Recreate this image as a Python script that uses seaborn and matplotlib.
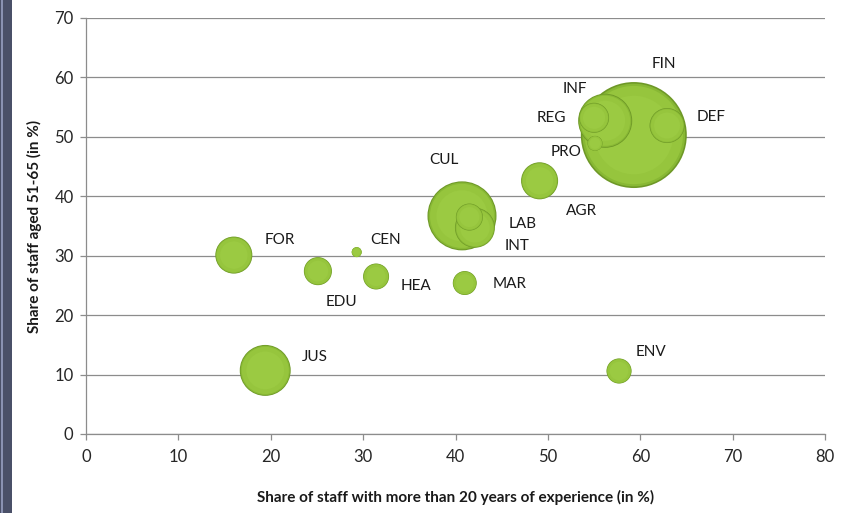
import matplotlib
matplotlib.use("Agg")
import matplotlib.pyplot as plt
import seaborn as sns
import pandas as pd
from matplotlib.patches import Rectangle

# ---- data ----
codes = ["FIN", "INF", "REG", "PRO", "DEF", "AGR", "CUL", "LAB", "INT",
         "FOR", "CEN", "EDU", "HEA", "MAR", "JUS", "ENV"]
experience = [59.3, 56.2, 55.0, 55.1, 62.9, 49.1, 40.7, 41.5, 42.1,
              16.0, 29.3, 25.1, 31.4, 41.0, 19.4, 57.7]
aged_51_65 = [50.3, 52.7, 53.2, 48.9, 51.9, 42.6, 36.7, 36.5, 34.7,
              30.1, 30.6, 27.4, 26.5, 25.4, 10.7, 10.6]
staff_size = [100, 26, 8, 2, 10.9, 12.2, 42.4, 6.5, 14.2,
              12.2, 0.9, 7.0, 6.0, 5.1, 23.1, 5.6]
x_ticks = [0, 10, 20, 30, 40, 50, 60, 70, 80]
y_ticks = [0, 10, 20, 30, 40, 50, 60, 70]

# label offsets (points) relative to bubble centre
label_offsets = {
    "FIN": (22, 51), "INF": (-22, 23), "REG": (-31, 0), "DEF": (32, 6),
    "PRO": (-21, -6), "CUL": (-13, 40), "AGR": (30, -22), "LAB": (38, -5),
    "INT": (30, -13), "FOR": (33, 11), "CEN": (21, 9), "EDU": (17, -22),
    "HEA": (29, -7), "MAR": (32, -1), "JUS": (36, 10), "ENV": (23, 14),
}

df = pd.DataFrame({"code": codes, "x": experience, "y": aged_51_65, "size": staff_size})
df = df.sort_values("size", ascending=False).reset_index(drop=True)

sns.set_theme(style="white")
plt.rcParams["font.family"] = ["Lato", "DejaVu Sans"]

fig = plt.figure(figsize=(8.41, 5.13), dpi=100)
ax = fig.add_axes([0.1023, 0.154, 0.8787, 0.811])

SMAX = 5822.0  # marker area (pt^2) for size 100
layers = [(1.00, "#6e9827"), (0.94, "#88b834"), (0.86, "#96c53d"), (0.55, "#9bca42")]
z = 3
for _, row in df.iterrows():
    sub = df[df["code"] == row["code"]]
    for scale, col in layers:
        sns.scatterplot(data=sub, x="x", y="y", s=row["size"] / 100 * SMAX * scale,
                        color=col, edgecolor="none", linewidth=0, ax=ax,
                        zorder=z, legend=False)
        z += 1

for _, row in df.iterrows():
    dx, dy = label_offsets[row["code"]]
    ax.annotate(row["code"], (row["x"], row["y"]), xytext=(dx, dy),
                textcoords="offset points", ha="center", va="center",
                fontsize=11, color="#1a1a1a", zorder=200)

ax.set_xlim(0, 80)
ax.set_ylim(0, 70)
ax.set_xticks(x_ticks)
ax.set_yticks(y_ticks)
ax.yaxis.grid(True, color="#8c8c8c", linewidth=0.9)
ax.xaxis.grid(False)
ax.set_axisbelow(True)
for s in ["top", "right"]:
    ax.spines[s].set_visible(False)
for s in ["left", "bottom"]:
    ax.spines[s].set_color("#8c8c8c")
    ax.spines[s].set_linewidth(0.9)
ax.tick_params(axis="both", which="major", length=4, width=0.9, color="#8c8c8c",
               labelsize=12, labelcolor="#262626", direction="out",
               left=True, bottom=True)
ax.tick_params(axis="x", pad=7)
ax.tick_params(axis="y", pad=5)

ax.set_xlabel("Share of staff with more than 20 years of experience (in %)",
              fontsize=11, fontweight="bold", color="#1a1a1a", labelpad=18)
ax.set_ylabel("Share of staff aged 51-65 (in %)",
              fontsize=11, fontweight="bold", color="#1a1a1a", labelpad=9)

# dark frame strip on the left edge
fig.patches.append(Rectangle((0, 0), 12 / 841, 1, transform=fig.transFigure,
                             facecolor="#4a5068", edgecolor="none", zorder=0))
fig.patches.append(Rectangle((1 / 841, 0), 2 / 841, 1, transform=fig.transFigure,
                             facecolor="#8a92b2", edgecolor="none", zorder=1))

fig.savefig("out.png", dpi=100)
